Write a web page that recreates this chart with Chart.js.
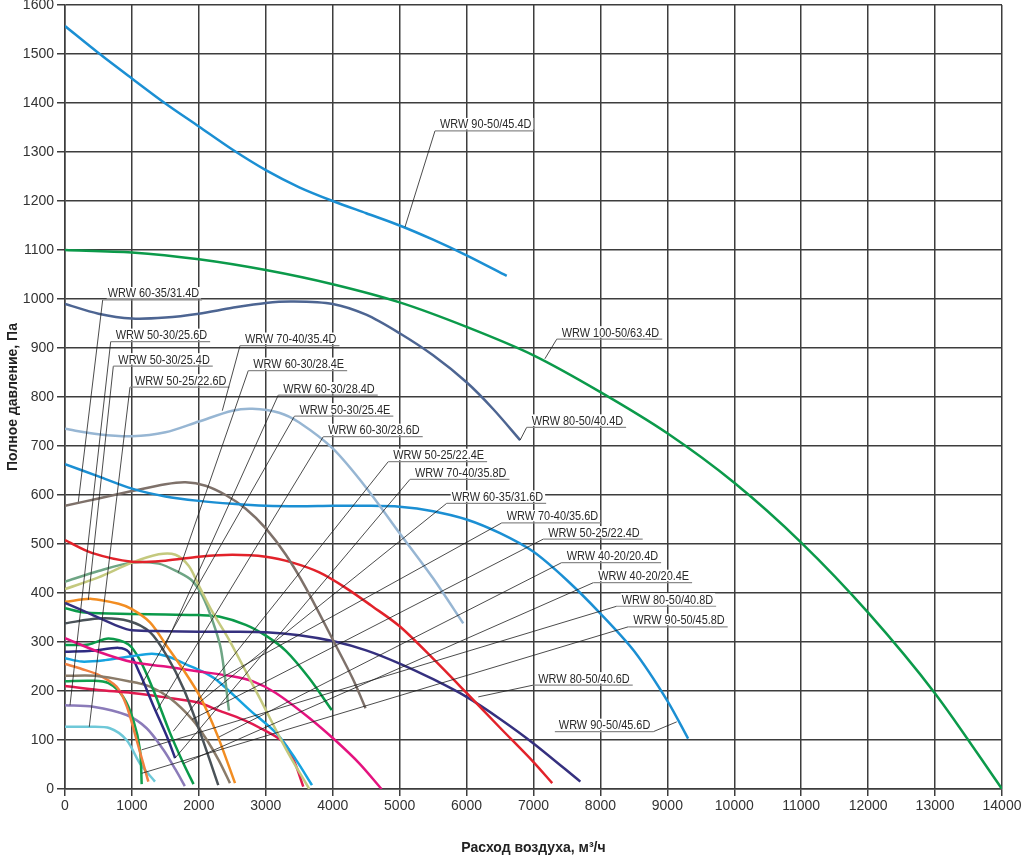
<!DOCTYPE html>
<html>
<head>
<meta charset="utf-8">
<script src="https://cdn.jsdelivr.net/npm/chart.js@4.4.0/dist/chart.umd.min.js"></script>
<style>
  html, body { margin: 0; padding: 0; background: #fff; }
  #wrap { width: 1024px; height: 856px; }
</style>
</head>
<body>
<div id="wrap"><canvas id="chart" width="1024" height="856"></canvas></div>
<script>
// Оси
const flowMax = 14000;
const flowStep = 1000;
const pressMax = 1600;
const pressStep = 100;

// Характеристики вентиляторов: [расход м3/ч, давление Па]
const wrw90_50_454D = [[0,1557],[500,1502],[1000,1450],[1500,1399],[2000,1352],[2500,1305],[3000,1263],[3500,1228],[4000,1200],[4500,1175],[5000,1150],[5500,1121],[6000,1089],[6600,1047]];
const wrw100_50_634D = [[0,1100],[1000,1095],[2000,1081],[3000,1059],[4000,1030],[5000,993],[6000,943],[7000,885],[8000,810],[9000,726],[10000,625],[11000,503],[12000,360],[13000,195],[14000,0]];
const wrw80_50_404D = [[0,990],[500,970],[1000,960],[1500,962],[2000,970],[2500,982],[3000,992],[3400,995],[4000,990],[4500,968],[5000,930],[5500,885],[6000,830],[6400,775],[6800,712]];
const wrw70_40_354D = [[0,735],[500,724],[1000,720],[1500,728],[2000,750],[2500,772],[2800,776],[3200,768],[3500,748],[4000,695],[4500,615],[5000,522],[5500,430],[5950,338]];
const wrw90_50_456D = [[0,663],[500,638],[1000,613],[1500,597],[2000,588],[2500,582],[3000,578],[3500,577],[4000,578],[4500,578],[5000,576],[5500,567],[6000,550],[6500,522],[7000,484],[7500,426],[8000,358],[8500,282],[9000,180],[9310,103]];
const wrw60_35_314D = [[0,578],[500,593],[1000,608],[1500,622],[1800,626],[2100,619],[2400,600],[2700,572],[3000,532],[3300,478],[3600,410],[4000,305],[4300,225],[4490,165]];
const redCurve = [[0,508],[400,482],[1000,464],[1500,466],[2000,474],[2500,478],[3000,474],[3400,462],[3800,442],[4200,410],[4600,372],[5000,332],[5500,266],[6000,196],[6500,125],[7000,55],[7280,12]];
const navyCurve = [[0,380],[400,356],[800,332],[1000,324],[1500,322],[2000,321],[2500,321],[3000,320],[3500,314],[4000,302],[4500,283],[5000,256],[5500,224],[6000,188],[6500,143],[7000,93],[7700,15]];
const khakiCurve = [[0,408],[500,432],[1000,462],[1400,479],[1650,478],[1850,455],[2000,415],[2200,362],[2450,305],[2900,188],[3300,82],[3650,0]];
const wrw60_30_284E = [[0,423],[500,445],[1000,462],[1400,460],[1700,442],[1900,425],[2050,395],[2200,345],[2330,285],[2450,160]];
const wrw50_30_254D = [[0,382],[400,388],[800,378],[1000,367],[1270,340],[1520,292],[1770,243],[2020,188],[2270,112],[2540,12]];
const green2Curve = [[0,369],[300,360],[1000,357],[1500,356],[2000,355],[2300,352],[2700,335],[3000,313],[3300,282],[3650,226],[3985,161]];
const charcoalCurve = [[0,338],[500,348],[950,343],[1270,320],[1520,272],[1770,205],[2020,115],[2290,8]];
const magentaCurve = [[0,308],[500,280],[1000,259],[1500,250],[2000,240],[2500,230],[2800,220],[3150,196],[3650,145],[4050,98],[4400,52],[4730,0]];
const cyanCurve = [[0,267],[250,260],[600,263],[1000,271],[1300,276],[1550,270],[1800,255],[2050,240],[2270,222],[2770,160],[3170,112],[3450,60],[3690,8]];
const navySmallCurve = [[0,280],[400,282],[800,288],[950,280],[1120,235],[1320,170],[1520,108],[1645,63]];
const greenSmallCurve = [[0,294],[350,295],[650,307],[950,295],[1120,263],[1320,202],[1570,114],[1770,52],[1920,10]];
const taupeCurve = [[0,231],[450,231],[950,220],[1270,209],[1570,185],[1900,142],[2120,100],[2300,58],[2465,12]];
const crimsonCurve = [[0,210],[500,202],[1000,196],[1500,187],[2000,176],[2300,160],[2650,142],[2950,122],[3260,96],[3420,58],[3560,5]];
const salmonCurve = [[0,255],[250,245],[500,233],[770,209],[920,170],[1070,100],[1245,15]];
const greenTinyCurve = [[0,220],[400,221],[650,216],[870,188],[1020,141],[1120,80],[1146,10]];
const wrw50_30_256D = [[0,171],[420,168],[920,151],[1220,124],[1470,80],[1650,40],[1790,6]];
const wrw50_25_226D = [[0,127],[370,127],[670,124],[920,100],[1120,52],[1345,15]];

const curveColors = [
    [wrw90_50_454D, '#1b8fd3'],
    [wrw100_50_634D, '#0b9a4a'],
    [wrw80_50_404D, '#4d6592'],
    [wrw70_40_354D, '#97b6d3'],
    [wrw90_50_456D, '#1b8fd3'],
    [wrw60_35_314D, '#7e716a'],
    [redCurve, '#e2222a'],
    [navyCurve, '#35307f'],
    [khakiCurve, '#c4c97e'],
    [wrw60_30_284E, '#6ea584'],
    [wrw50_30_254D, '#f28d22'],
    [green2Curve, '#0b9a4a'],
    [charcoalCurve, '#4a5258'],
    [magentaCurve, '#e4137f'],
    [cyanCurve, '#16a3e0'],
    [navySmallCurve, '#2e2b82'],
    [greenSmallCurve, '#0b9a4a'],
    [taupeCurve, '#8a7b69'],
    [crimsonCurve, '#e11a4f'],
    [salmonCurve, '#f1803f'],
    [greenTinyCurve, '#12a04e'],
    [wrw50_30_256D, '#8b7bb9'],
    [wrw50_25_226D, '#6ec8d8']
];

// Подписи моделей
const labelText = [
    'WRW 90-50/45.4D', 'WRW 60-35/31.4D', 'WRW 50-30/25.6D', 'WRW 50-30/25.4D', 'WRW 50-25/22.6D',
    'WRW 70-40/35.4D', 'WRW 60-30/28.4E', 'WRW 60-30/28.4D', 'WRW 50-30/25.4E', 'WRW 60-30/28.6D',
    'WRW 50-25/22.4E', 'WRW 70-40/35.8D', 'WRW 60-35/31.6D', 'WRW 70-40/35.6D', 'WRW 50-25/22.4D',
    'WRW 40-20/20.4D', 'WRW 40-20/20.4E', 'WRW 80-50/40.8D', 'WRW 90-50/45.8D', 'WRW 100-50/63.4D',
    'WRW 80-50/40.4D', 'WRW 80-50/40.6D', 'WRW 90-50/45.6D'
];
// [начало полки x, y, конец выноски x, y, сторона] в единицах осей
const labelPos = [
    [5528,1343, 5080,1147, 'L'],
    [563,998, 199,586, 'L'],
    [683,913, 75,171, 'L'],
    [722,863, 348,386, 'L'],
    [971,820, 363,127, 'L'],
    [2615,905, 2350,772, 'L'],
    [2739,854, 1693,442, 'L'],
    [3187,804, 1469,284, 'L'],
    [3429,761, 1146,214, 'L'],
    [3859,719, 1370,160, 'L'],
    [4830,668, 1618,118, 'L'],
    [5155,632, 1644,63, 'L'],
    [5703,583, 2000,176, 'L'],
    [6525,543, 2270,222, 'L'],
    [7146,510, 1900,142, 'L'],
    [7421,462, 2300,106, 'L'],
    [7893,421, 1770,52, 'L'],
    [8243,373, 1146,80, 'L'],
    [8416,331, 1146,32, 'L'],
    [7347,918, 7170,878, 'L'],
    [6898,738, 6800,712, 'L'],
    [6997,212, 6175,188, 'L'],
    [8790,117, 9140,137, 'R']
];

Chart.defaults.font.family = '"Liberation Sans", Arial, sans-serif';
Chart.defaults.color = '#333';

const gridColor = '#3d3d3d';

const labelPlugin = {
    id: 'labelPlugin',
    afterDatasetsDraw(chart) {
        const ctx = chart.ctx;
        const xs = chart.scales.x, ys = chart.scales.y;
        const sx = 0.84;
        ctx.save();
        ctx.font = '13px "Liberation Sans", Arial, sans-serif';
        labelText.forEach((name, i) => {
            const [ux, uy, ex, ey, side] = labelPos[i];
            const px = xs.getPixelForValue(ux), py = ys.getPixelForValue(uy);
            const qx = xs.getPixelForValue(ex), qy = ys.getPixelForValue(ey);
            const w = ctx.measureText(name).width * sx;
            let tx, u1, u2;
            if (side === 'L') {
                tx = px + 5; u1 = px; u2 = tx + w + 3;
            } else {
                tx = px - w - 3; u1 = tx - 4; u2 = px;
            }
            // белая подложка под текстом
            ctx.fillStyle = '#fff';
            ctx.fillRect(tx - 1, py - 13, w + 3, 11.5);
            // выноска
            ctx.strokeStyle = '#1e1e1e';
            ctx.lineWidth = 0.8;
            ctx.beginPath();
            ctx.moveTo(px, py);
            ctx.lineTo(qx, qy);
            ctx.stroke();
            // полка
            ctx.strokeStyle = '#8a8a8a';
            ctx.lineWidth = 1.2;
            ctx.beginPath();
            ctx.moveTo(u1, py);
            ctx.lineTo(u2, py);
            ctx.stroke();
            // текст
            ctx.fillStyle = '#2a2a2a';
            ctx.save();
            ctx.translate(tx, py - 2.5);
            ctx.scale(sx, 1);
            ctx.textBaseline = 'alphabetic';
            ctx.fillText(name, 0, 0);
            ctx.restore();
        });
        ctx.restore();
    },
    afterDraw(chart) {
        const ctx = chart.ctx;
        const area = chart.chartArea;
        ctx.save();
        ctx.fillStyle = '#222';
        ctx.font = 'bold 14px "Liberation Sans", Arial, sans-serif';
        ctx.textAlign = 'center';
        ctx.textBaseline = 'middle';
        ctx.fillText('Расход воздуха, м³/ч', (area.left + area.right) / 2, 848);
        ctx.translate(13, (area.top + area.bottom) / 2);
        ctx.rotate(-Math.PI / 2);
        ctx.fillText('Полное давление, Па', 0, 0);
        ctx.restore();
    }
};

new Chart(document.getElementById('chart'), {
    type: 'line',
    data: {
        datasets: curveColors.map(([pts, color]) => ({
            data: pts.map(p => ({ x: p[0], y: p[1] })),
            borderColor: color,
            backgroundColor: color,
            borderWidth: 2.5,
            pointRadius: 0,
            fill: false,
            tension: 0.3
        }))
    },
    options: {
        responsive: false,
        animation: false,
        layout: { padding: { left: 0, top: 5, right: 22, bottom: 0 } },
        plugins: {
            legend: { display: false },
            tooltip: { enabled: false }
        },
        scales: {
            x: {
                type: 'linear',
                min: 0,
                max: flowMax,
                ticks: {
                    stepSize: flowStep,
                    autoSkip: false,
                    maxRotation: 0,
                    padding: 2,
                    font: { size: 14 },
                    color: '#333',
                    callback: v => String(v)
                },
                grid: { color: gridColor, lineWidth: 1.5, tickLength: 7 },
                border: { color: gridColor, width: 1.5 },
                afterFit(scale) {
                    scale.height = 67;
                    scale.paddingLeft = 0;
                    scale.paddingRight = 0;
                }
            },
            y: {
                min: 0,
                max: pressMax,
                ticks: {
                    stepSize: pressStep,
                    padding: 3,
                    font: { size: 14 },
                    color: '#333',
                    callback: v => String(v)
                },
                grid: { color: gridColor, lineWidth: 1.5, tickLength: 8 },
                border: { color: gridColor, width: 1.5 },
                afterFit(scale) {
                    scale.width = 65;
                    scale.paddingTop = 0;
                    scale.paddingBottom = 0;
                }
            }
        }
    },
    plugins: [labelPlugin]
});
</script>
</body>
</html>
